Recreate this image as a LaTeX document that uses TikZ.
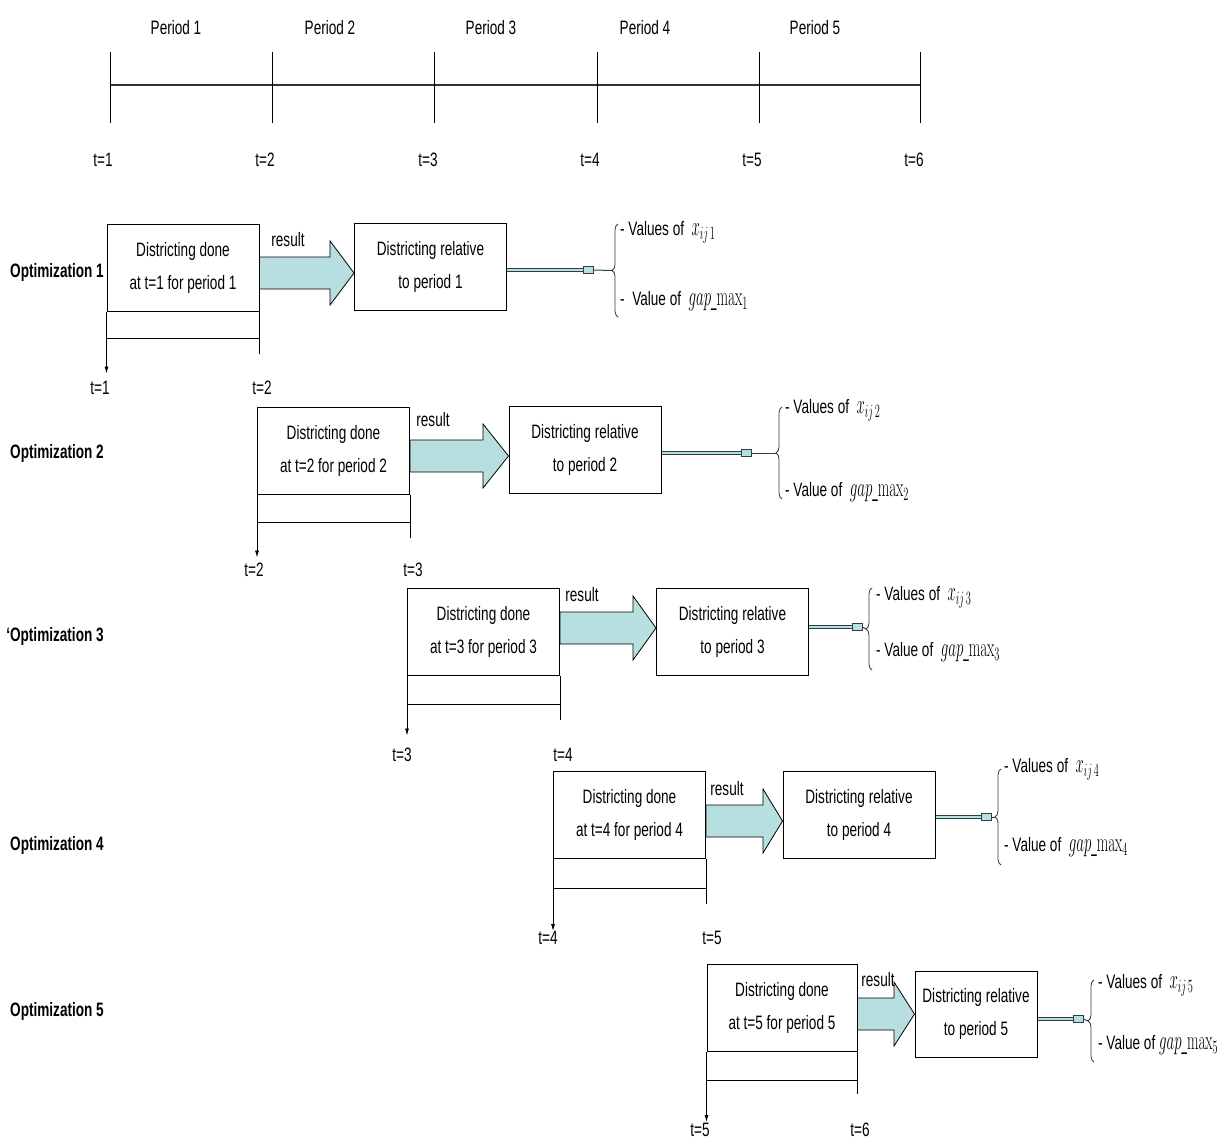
\documentclass[tikz,border=0pt]{standalone}
\usepackage[no-math]{fontspec}
\setmainfont[FakeStretch=0.7]{Liberation Sans}
\usetikzlibrary{arrows.meta,decorations.pathreplacing,calc}
\definecolor{cb7dfe0}{RGB}{183,223,224}
\definecolor{c2f3f3f}{RGB}{47,63,63}
\definecolor{c333333}{RGB}{51,51,51}
\tikzset{
  dline/.style={draw=c2f3f3f,line width=1pt,double=cb7dfe0,double distance=2pt},
  curly/.style={color=c2f3f3f,line width=0.8pt,decorate,decoration={brace,amplitude=6}},
  spanarrow/.style={-{Latex[length=7pt,width=4pt]}}
}
\newcommand{\nmath}[1]{\scalebox{0.72}[1.3]{$#1$}}

\begin{document}
\begin{tikzpicture}[x=1pt,y=-1pt]

\useasboundingbox (0,0) rectangle (1226,1140);

% time axis
\draw[color=c333333,line width=2.5pt] (110,85) -- (920,85);
\foreach \x in {110,272,434,597,759,920}
  \draw[line width=0.8pt] (\x,52) -- (\x,123);

\begin{scope}[every node/.style={inner sep=0pt,font=\fontsize{19.4}{22}\selectfont}]
\node (p1) at (176,28) {Period 1};
\node (p2) at (330,28) {Period 2};
\node (p3) at (491,28) {Period 3};
\node (p4) at (645,28) {Period 4};
\node (p5) at (815,28) {Period 5};
\node (t1) at (103,160) {t=1};
\node (t2) at (265,160) {t=2};
\node (t3) at (428,160) {t=3};
\node (t4) at (590,160) {t=4};
\node (t5) at (752,160) {t=5};
\node (t6) at (914,160) {t=6};
\end{scope}

% row titles
\begin{scope}[every node/.style={inner sep=0pt,font=\fontsize{19.4}{22}\selectfont\bfseries}]
\node (o1) at (57,272) {Optimization 1};
\node (o2) at (57,453) {Optimization 2};
\node (o3) at (55,636) {`Optimization 3};
\node (o4) at (57,845) {Optimization 4};
\node (o5) at (57,1011) {Optimization 5};
\end{scope}

% boxes
\begin{scope}[every node/.style={draw,line width=1pt,minimum width=152,minimum height=87,inner sep=0pt,align=center,font=\fontsize{19.4}{33}\selectfont}]
\node (d1) at (183,267.5) {Districting done\\at t=1 for period 1};
\node (r1) at (430.5,266.5) {Districting relative\\to period 1};
\node (d2) at (333.5,450.5) {Districting done\\at t=2 for period 2};
\node (r2) at (585,450) {Districting relative\\to period 2};
\node (d3) at (483.5,631.5) {Districting done\\at t=3 for period 3};
\node (r3) at (732.5,632) {Districting relative\\to period 3};
\node (d4) at (629.5,815) {Districting done\\at t=4 for period 4};
\node (r4) at (859,814.5) {Districting relative\\to period 4};
\node[minimum width=150] (d5) at (782,1008) {Districting done\\at t=5 for period 5};
\node[minimum width=122,minimum height=86] (r5) at (976,1014) {Districting relative\\to period 5};
\end{scope}

% result arrows
\begin{scope}[draw=black,fill=cb7dfe0,line width=0.8pt]
\filldraw (d1.east |- 0,257) -- (330,257) -- (330,241) -- (r1.west |- 0,273) -- (330,305) -- (330,289) -- (d1.east |- 0,289) -- cycle;
\filldraw (d2.east |- 0,440) -- (483,440) -- (483,424) -- (r2.west |- 0,456) -- (483,488) -- (483,472) -- (d2.east |- 0,472) -- cycle;
\filldraw (d3.east |- 0,612) -- (633,612) -- (633,596) -- (r3.west |- 0,628) -- (633,660) -- (633,644) -- (d3.east |- 0,644) -- cycle;
\filldraw (d4.east |- 0,805) -- (763,805) -- (763,789) -- (r4.west |- 0,821) -- (763,853) -- (763,837) -- (d4.east |- 0,837) -- cycle;
\filldraw (d5.east |- 0,998) -- (894,998) -- (894,982) -- (r5.west |- 0,1014) -- (894,1046) -- (894,1030) -- (d5.east |- 0,1030) -- cycle;
\end{scope}

\begin{scope}[every node/.style={inner sep=0pt,font=\fontsize{19.4}{22}\selectfont}]
\node (res1) at (288,240) {result};
\node (res2) at (433,420) {result};
\node (res3) at (582,595) {result};
\node (res4) at (727,789) {result};
\node (res5) at (878,980) {result};
\end{scope}

% spans below the boxes
\begin{scope}[line width=0.8pt]
\draw[spanarrow] (d1.south west) -- ++(0,62);
\draw ($(d1.south west)+(0,27)$) -- ($(d1.south east)+(0,27)$);
\draw (d1.south east) -- ++(0,42);
\draw[spanarrow] (d2.south west) -- ++(0,63);
\draw ($(d2.south west)+(0,28)$) -- ($(d2.south east)+(0,28)$);
\draw (d2.south east) -- ++(0,43);
\draw[spanarrow] (d3.south west) -- ++(0,60);
\draw ($(d3.south west)+(0,29)$) -- ($(d3.south east)+(0,29)$);
\draw (d3.south east) -- ++(0,44);
\draw[spanarrow] (d4.south west) -- ++(0,72);
\draw ($(d4.south west)+(0,29)$) -- ($(d4.south east)+(0,29)$);
\draw (d4.south east) -- ++(0,45);
\draw[spanarrow] (d5.south west) -- ++(0,70);
\draw ($(d5.south west)+(0,28)$) -- ($(d5.south east)+(0,28)$);
\draw (d5.south east) -- ++(0,42);
\end{scope}

\begin{scope}[every node/.style={inner sep=0pt,font=\fontsize{19.4}{22}\selectfont}]
\node (b1l) at (100,388) {t=1};
\node (b1r) at (262,388) {t=2};
\node (b2l) at (254,570) {t=2};
\node (b2r) at (413,570) {t=3};
\node (b3l) at (402,755) {t=3};
\node (b3r) at (563,755) {t=4};
\node (b4l) at (548,938) {t=4};
\node (b4r) at (712,938) {t=5};
\node (b5l) at (700,1130) {t=5};
\node (b5r) at (860,1130) {t=6};
\end{scope}

% output links and braces
\begin{scope}[every node/.style={draw=c2f3f3f,fill=cb7dfe0,line width=0.8pt,minimum width=10,minimum height=7,inner sep=0pt}]
\node (k1) at (588,270) {};
\node (k2) at (746,453) {};
\node (k3) at (857,627) {};
\node (k4) at (986,817) {};
\node (k5) at (1078,1019) {};
\end{scope}

\coordinate (e1) at (612,270.5);
\coordinate (e2) at (776,453);
\coordinate (e3) at (866,629);
\coordinate (e4) at (995,817);
\coordinate (e5) at (1088,1021);

\draw[dline] (r1.east |- k1) -- (k1.west);
\draw[dline] (r2.east |- k2) -- (k2.west);
\draw[dline] (r3.east |- k3) -- (k3.west);
\draw[dline] (r4.east |- k4) -- (k4.west);
\draw[dline] (r5.east |- k5) -- (k5.west);

\begin{scope}[color=c2f3f3f,line width=1pt]
\draw (k1.east) -- (e1);
\draw (k2.east) -- (e2);
\draw (k3.east) -- (e3);
\draw (k4.east) -- (e4);
\draw (k5.east) -- (e5);
\end{scope}

\draw[curly] (618,317) -- (618,224);
\draw[curly] (782,499) -- (782,407);
\draw[curly] (872,670) -- (872,588);
\draw[curly] (1001,865) -- (1001,769);
\draw[curly] (1094,1062) -- (1094,980);

\begin{scope}[every node/.style={anchor=west,inner sep=0pt,font=\fontsize{19.4}{22}\selectfont}]
\node (v1) at (620,232) {- Values of\ \ \nmath{x_{ij\,1}}};
\node (g1) at (620,301) {- \ Value of\ \ \nmath{gap\_\mathrm{max}_1}};
\node (v2) at (785,410) {- Values of\ \ \nmath{x_{ij\,2}}};
\node (g2) at (785,492) {- Value of\ \ \nmath{gap\_\mathrm{max}_2}};
\node (v3) at (876,597) {- Values of\ \ \nmath{x_{ij\,3}}};
\node (g3) at (876,652) {- Value of\ \ \nmath{gap\_\mathrm{max}_3}};
\node (v4) at (1004,769) {- Values of\ \ \nmath{x_{ij\,4}}};
\node (g4) at (1004,847) {- Value of\ \ \nmath{gap\_\mathrm{max}_4}};
\node (v5) at (1098,985) {- Values of\ \ \nmath{x_{ij\,5}}};
\node (g5) at (1098,1045) {- Value of \nmath{gap\_\mathrm{max}_5}};
\end{scope}

\end{tikzpicture}
\end{document}
